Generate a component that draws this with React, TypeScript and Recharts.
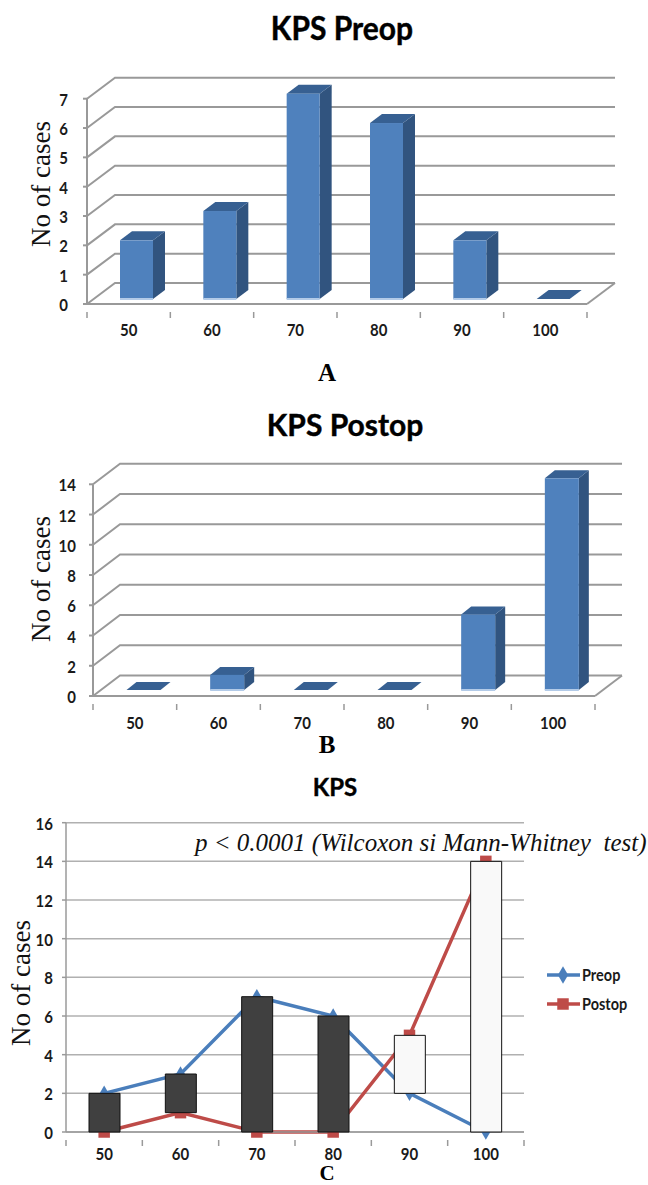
import { Bar, BarChart, CartesianGrid, Cell, ComposedChart, Legend, Line, Symbols, XAxis, YAxis } from "recharts";

const categories = ["50", "60", "70", "80", "90", "100"];
const preop = [2, 3, 7, 6, 2, 0];
const postop = [0, 1, 0, 0, 5, 14];
const preopTicks = [0, 1, 2, 3, 4, 5, 6, 7];
const postopTicks = [0, 2, 4, 6, 8, 10, 12, 14];
const compareTicks = [0, 2, 4, 6, 8, 10, 12, 14, 16];

const preopRows = categories.map((kps, i) => ({ kps, cases: preop[i] }));
const postopRows = categories.map((kps, i) => ({ kps, cases: postop[i] }));
const compareRows = categories.map((kps, i) => ({
  kps,
  preop: preop[i],
  postop: postop[i],
  range: [Math.min(preop[i], postop[i]), Math.max(preop[i], postop[i])],
}));

const BLUE = "#4a7ebb";
const RED = "#be4b48";
const WALL = "#999999";
const SANS = "Lato, 'Open Sans', sans-serif";
const SERIF = "'Liberation Serif', serif";

// stretched bold label, the source picture was resized taller than wide
function StretchText({ x, y, text, anchor, stretch = 1.15 }: any) {
  return (
    <text
      transform={`translate(${x} ${y}) scale(1 ${stretch})`}
      textAnchor={anchor}
      fontFamily={SANS}
      fontWeight={700}
      fontSize={15}
      fill="#1a1a1a"
    >
      {text}
    </text>
  );
}

function makeXTick(band: number, labelDy: number, tickColor: string) {
  return function XTick({ x, y, payload, index }: any) {
    return (
      <g>
        <line x1={x - band / 2} x2={x - band / 2} y1={y} y2={y + 6} stroke={tickColor} strokeWidth={1.5} />
        {index === categories.length - 1 && (
          <line x1={x + band / 2} x2={x + band / 2} y1={y} y2={y + 6} stroke={tickColor} strokeWidth={1.5} />
        )}
        <StretchText x={x} y={y + labelDy} text={payload.value} anchor="middle" />
      </g>
    );
  };
}

function YTick({ x, y, payload }: any) {
  return <StretchText x={x} y={y + 7} text={payload.value} anchor="end" />;
}

// back wall line plus the diagonal on the side wall, floor edge on the lowest one
function makeWallLine(wallX: number, wallY: number, bottom: number) {
  return function WallLine({ x1, x2, y1 }: any) {
    return (
      <g stroke={WALL} strokeWidth={2} fill="none">
        <polyline points={`${x1},${y1} ${x1 + wallX},${y1 - wallY} ${x2 + wallX},${y1 - wallY}`} />
        {Math.abs(y1 - bottom) < 1 && <line x1={x2} y1={y1} x2={x2 + wallX} y2={y1 - wallY} />}
      </g>
    );
  };
}

function makeBar3D(shiftX: number, shiftY: number, depthX: number, depthY: number) {
  return function Bar3D({ x, y, width, height }: any) {
    const l = x + shiftX;
    const r = l + width;
    const t = y - shiftY;
    const b = t + height;
    return (
      <g>
        <polygon
          points={`${r},${t} ${r + depthX},${t - depthY} ${r + depthX},${b - depthY} ${r},${b}`}
          fill="#31547f"
        />
        <polygon
          points={`${l},${t} ${l + depthX},${t - depthY} ${r + depthX},${t - depthY} ${r},${t}`}
          fill="#376092"
        />
        <rect x={l} y={t} width={width} height={height} fill="#4f81bd" />
        {height > 0 && <rect x={l} y={b - 1} width={width} height={2} fill="#b3cbe8" />}
      </g>
    );
  };
}

function PreopDot({ cx, cy }: any) {
  return <Symbols cx={cx} cy={cy} type="diamond" size={70} fill={BLUE} />;
}

function PostopDot({ cx, cy }: any) {
  return <Symbols cx={cx} cy={cy} type="square" size={132} fill={RED} />;
}

function LegendBox({ payload }: any) {
  const items = (payload || []).filter((entry: any) => entry.dataKey !== "range");
  return (
    <div>
      {items.map((entry: any) => (
        <div key={entry.value} style={{ display: "flex", alignItems: "center", height: 29 }}>
          <svg width={35} height={20}>
            <line x1={0} x2={33} y1={10} y2={10} stroke={entry.color} strokeWidth={3.5} />
            {entry.value === "Preop" ? (
              <Symbols cx={16} cy={10} type="diamond" size={90} fill={entry.color} />
            ) : (
              <Symbols cx={16} cy={10} type="square" size={132} fill={entry.color} />
            )}
          </svg>
          <span
            style={{
              fontFamily: SANS,
              fontWeight: 700,
              fontSize: 14.5,
              color: "#1a1a1a",
              display: "inline-block",
              transform: "scaleY(1.15)",
            }}
          >
            {entry.value}
          </span>
        </div>
      ))}
    </div>
  );
}

function Caption({ text, x, y, size, bold, stretch = 1 }: any) {
  return (
    <div
      style={{
        position: "absolute",
        left: x,
        top: y,
        transform: `translate(-50%, -50%) scaleY(${stretch})`,
        fontFamily: bold ? SANS : SERIF,
        fontWeight: 700,
        fontSize: size,
        lineHeight: 0.8,
        color: "#000",
        whiteSpace: "nowrap",
        WebkitTextStroke: bold ? "0.4px #000" : undefined,
      }}
    >
      {text}
    </div>
  );
}

function CasesLabel({ x, y }: any) {
  return (
    <div
      style={{
        position: "absolute",
        left: x,
        top: y,
        transform: "translate(-50%, -50%) rotate(-90deg)",
        fontFamily: SERIF,
        fontSize: 27,
        lineHeight: 1,
        color: "#111",
        whiteSpace: "nowrap",
      }}
    >
      No of cases
    </div>
  );
}

export default function App() {
  return (
    <div style={{ position: "absolute", left: 0, top: 0, width: 648, height: 1185, overflow: "hidden", background: "#fff" }}>
      <div style={{ position: "absolute", left: 0, top: 0 }}>
        <BarChart width={648} height={400} data={preopRows} margin={{ top: 98.7, right: 61, bottom: 56, left: 0 }}>
          <CartesianGrid vertical={false} horizontal={makeWallLine(28, 21, 304)} />
          <XAxis
            dataKey="kps"
            height={40}
            axisLine={{ stroke: WALL, strokeWidth: 2 }}
            tickLine={false}
            tick={makeXTick(500 / 6, 24, WALL)}
            interval={0}
          />
          <YAxis
            width={87}
            domain={[0, 7]}
            ticks={preopTicks}
            interval={0}
            axisLine={{ stroke: WALL, strokeWidth: 2 }}
            tickLine={{ stroke: WALL, strokeWidth: 2 }}
            tickSize={4}
            tickMargin={15}
            tick={YTick}
          />
          <Bar dataKey="cases" barSize={33} isAnimationActive={false} shape={makeBar3D(8, 5, 12, 9)} />
        </BarChart>
      </div>

      <div style={{ position: "absolute", left: 0, top: 400 }}>
        <BarChart width={648} height={370} data={postopRows} margin={{ top: 84.3, right: 53, bottom: 34, left: 0 }}>
          <CartesianGrid vertical={false} horizontal={makeWallLine(27, 20.5, 296)} />
          <XAxis
            dataKey="kps"
            height={40}
            axisLine={{ stroke: WALL, strokeWidth: 2 }}
            tickLine={false}
            tick={makeXTick(502 / 6, 25, WALL)}
            interval={0}
          />
          <YAxis
            width={93}
            domain={[0, 14]}
            ticks={postopTicks}
            interval={0}
            axisLine={{ stroke: WALL, strokeWidth: 2 }}
            tickLine={{ stroke: WALL, strokeWidth: 2 }}
            tickSize={4}
            tickMargin={13}
            tick={YTick}
          />
          <Bar dataKey="cases" barSize={34} isAnimationActive={false} shape={makeBar3D(8.5, 6, 10, 8)} />
        </BarChart>
      </div>

      <div style={{ position: "absolute", left: 0, top: 770 }}>
        <ComposedChart width={648} height={415} data={compareRows} margin={{ top: 52.7, right: 24, bottom: 13, left: 0 }}>
          <CartesianGrid vertical={false} stroke="#b0b0b0" strokeWidth={1.5} />
          <XAxis
            dataKey="kps"
            height={40}
            axisLine={{ stroke: "#9a9a9a", strokeWidth: 1.5 }}
            tickLine={false}
            tick={makeXTick(458 / 6, 20, "#9a9a9a")}
            interval={0}
          />
          <YAxis
            width={66}
            domain={[0, 16]}
            ticks={compareTicks}
            interval={0}
            axisLine={{ stroke: "#9a9a9a", strokeWidth: 1.5 }}
            tickLine={{ stroke: "#9a9a9a", strokeWidth: 1.5 }}
            tickSize={4}
            tickMargin={9}
            tick={YTick}
          />
          <Legend
            layout="vertical"
            align="right"
            verticalAlign="top"
            itemSorter={null}
            content={LegendBox}
            wrapperStyle={{ left: 547, top: 190, width: 100 }}
          />
          <Line dataKey="preop" name="Preop" stroke={BLUE} strokeWidth={3.5} dot={PreopDot} isAnimationActive={false} />
          <Line dataKey="postop" name="Postop" stroke={RED} strokeWidth={3.5} dot={PostopDot} isAnimationActive={false} />
          <Bar dataKey="range" barSize={31} stroke="#111" zIndex={1500} legendType="none" isAnimationActive={false}>
            {compareRows.map((row) => (
              <Cell key={row.kps} fill={row.preop > row.postop ? "#404040" : "#f9f9f9"} />
            ))}
          </Bar>
        </ComposedChart>
      </div>

      <Caption text="KPS Preop" x={342} y={27} size={30} bold stretch={1.05} />
      <Caption text="KPS Postop" x={345} y={424} size={30} bold />
      <Caption text="KPS" x={335} y={787} size={24} bold />
      <Caption text="A" x={327} y={373} size={25} />
      <Caption text="B" x={327} y={745} size={25} />
      <Caption text="C" x={327} y={1173} size={21} />
      <CasesLabel x={41} y={184} />
      <CasesLabel x={41} y={579} />
      <CasesLabel x={21} y={983} />
      <div
        style={{
          position: "absolute",
          left: 195,
          top: 828,
          fontFamily: SERIF,
          fontStyle: "italic",
          fontSize: 25,
          lineHeight: 1.2,
          color: "#111",
          whiteSpace: "pre",
        }}
      >
        {"p < 0.0001 (Wilcoxon si Mann-Whitney  test)"}
      </div>
    </div>
  );
}
